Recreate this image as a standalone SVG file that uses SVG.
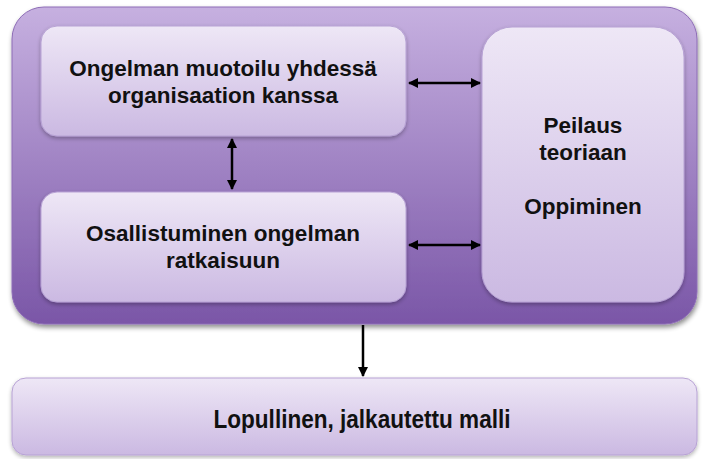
<svg xmlns="http://www.w3.org/2000/svg" width="703" height="459" viewBox="0 0 703 459">
  <defs>
    <linearGradient id="outerFill" x1="0" y1="0" x2="0" y2="1">
      <stop offset="0" stop-color="#c6b0e0"/>
      <stop offset="1" stop-color="#7a56a7"/>
    </linearGradient>
    <linearGradient id="boxFill" x1="0" y1="0" x2="0" y2="1">
      <stop offset="0" stop-color="#eee7f6"/>
      <stop offset="1" stop-color="#cbb9e2"/>
    </linearGradient>
    <filter id="shadow" x="-10%" y="-10%" width="120%" height="130%">
      <feGaussianBlur in="SourceAlpha" stdDeviation="2.5"/>
      <feOffset dx="1" dy="3" result="b"/>
      <feComponentTransfer><feFuncA type="linear" slope="0.45"/></feComponentTransfer>
      <feMerge><feMergeNode/><feMergeNode in="SourceGraphic"/></feMerge>
    </filter>
    <filter id="softShadow" x="-10%" y="-10%" width="120%" height="130%">
      <feGaussianBlur in="SourceAlpha" stdDeviation="2"/>
      <feOffset dx="0" dy="2" result="b"/>
      <feComponentTransfer><feFuncA type="linear" slope="0.3"/></feComponentTransfer>
      <feMerge><feMergeNode/><feMergeNode in="SourceGraphic"/></feMerge>
    </filter>
    <marker id="head" viewBox="0 0 10 10" refX="9" refY="5" markerWidth="4.2" markerHeight="4" orient="auto-start-reverse" markerUnits="strokeWidth">
      <path d="M0,0 L10,5 L0,10 z" fill="#000"/>
    </marker>
  </defs>
  <style>
    .lbl { font-family: "Liberation Sans", Arial, sans-serif; font-weight: bold; font-size: 22.5px; fill: #111; text-anchor: middle; }
    .box { fill: url(#boxFill); stroke: #b7a2d4; stroke-width: 1; filter: url(#softShadow); }
    .conn { stroke: #000; stroke-width: 2.5; fill: none; }
  </style>

  <!-- container -->
  <g id="container">
    <rect x="12" y="7" width="685" height="317" rx="32" fill="url(#outerFill)" stroke="#8d6cb6" stroke-width="1" filter="url(#shadow)"/>
  </g>

  <g id="formulation">
    <rect class="box" x="41" y="26" width="365" height="110" rx="16"/>
    <text class="lbl" x="223" y="76">Ongelman muotoilu yhdessä</text>
    <text class="lbl" x="223" y="103">organisaation kanssa</text>
  </g>

  <g id="participation">
    <rect class="box" x="41" y="192" width="365" height="110" rx="16"/>
    <text class="lbl" x="223" y="241">Osallistuminen ongelman</text>
    <text class="lbl" x="223" y="268">ratkaisuun</text>
  </g>

  <g id="reflection">
    <rect class="box" x="482" y="27" width="202" height="275" rx="30"/>
    <text class="lbl" x="583" y="133">Peilaus</text>
    <text class="lbl" x="583" y="160">teoriaan</text>
    <text class="lbl" x="583" y="214">Oppiminen</text>
  </g>

  <g id="final">
    <rect class="box" x="12" y="378" width="685" height="77" rx="14"/>
    <text class="lbl" x="362" y="428" style="font-size:25px" textLength="297" lengthAdjust="spacingAndGlyphs">Lopullinen, jalkautettu malli</text>
  </g>

  <g id="connectors">
    <line class="conn" x1="232" y1="139" x2="232" y2="189" marker-start="url(#head)" marker-end="url(#head)"/>
    <line class="conn" x1="409" y1="83" x2="480" y2="83" marker-start="url(#head)" marker-end="url(#head)"/>
    <line class="conn" x1="409" y1="245" x2="480" y2="245" marker-start="url(#head)" marker-end="url(#head)"/>
    <line class="conn" x1="363" y1="325" x2="363" y2="376" marker-end="url(#head)"/>
  </g>
</svg>
